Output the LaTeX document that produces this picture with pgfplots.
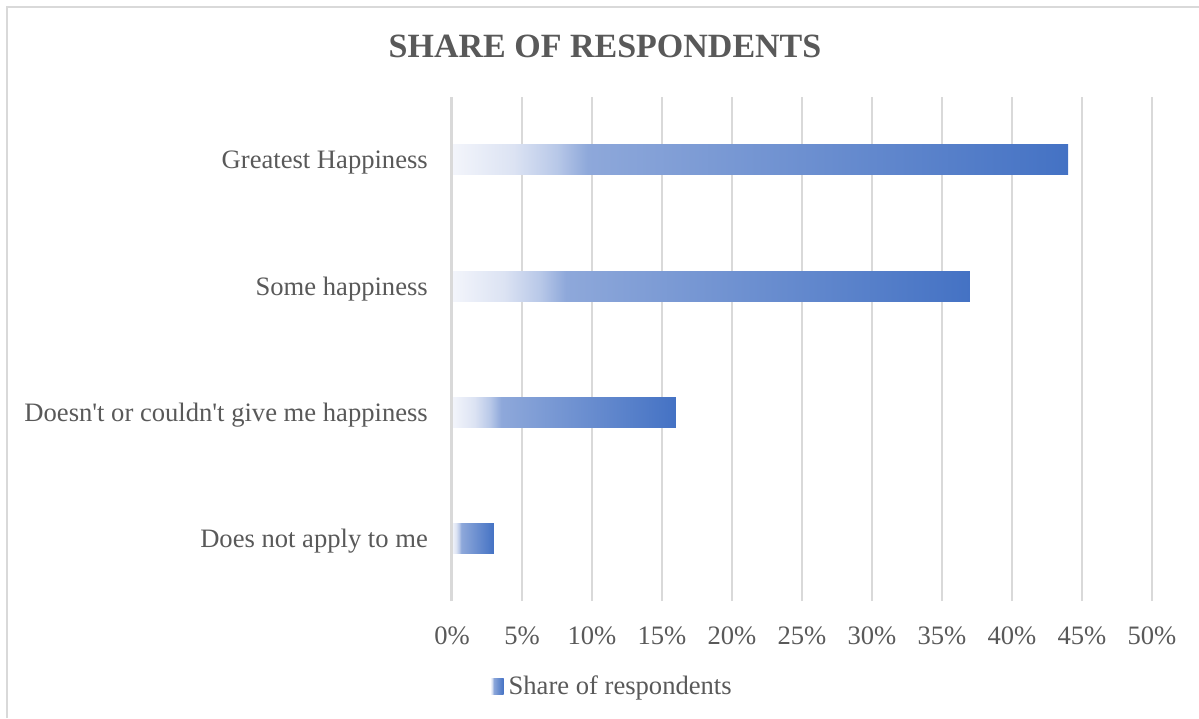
\documentclass[border=0pt]{standalone}
\usepackage{fontspec}
\setmainfont{Liberation Serif}
\usepackage{pgfplots}
\pgfplotsset{compat=1.18}
\definecolor{textgray}{HTML}{595959}
\definecolor{gridgray}{HTML}{D9D9D9}
\definecolor{bs0}{HTML}{F3F5FB}
\definecolor{bs1}{HTML}{DCE3F3}
\definecolor{bs2}{HTML}{B8C8E8}
\definecolor{bs3}{HTML}{8EA8DA}
\definecolor{bs4}{HTML}{4472C4}
\pgfdeclarehorizontalshading{barshade}{100bp}{color(0bp)=(bs0); color(25bp)=(bs0); color(30bp)=(bs1); color(33.5bp)=(bs2); color(36bp)=(bs3); color(75bp)=(bs4); color(100bp)=(bs4)}
\begin{document}
\begin{tikzpicture}
\path[use as bounding box] (-452pt,-117pt) rectangle (747pt,601pt);
\draw[gridgray, line width=1.5pt] (-445pt,-117pt) -- (-445pt,594pt) -- (747pt,594pt);
\begin{axis}[
 at={(0pt,0pt)}, anchor=south west,
 scale only axis, width=700pt, height=504pt,
 xmin=0, xmax=50, ymin=-0.5, ymax=3.5,
 xbar, bar width=30pt,
 axis line style={draw=none},
 major tick length=0pt,
 xtick={0,5,...,50},
 xticklabel={\pgfmathprintnumber{\tick}\%},
 ytick={0,1,2,3},
 yticklabels={Does not apply to me, Doesn\textquotesingle t or couldn\textquotesingle t give me happiness, Some happiness, Greatest Happiness},
 xmajorgrids, grid style={gridgray, line width=1.5pt},
 /pgf/number format/assume math mode=true,
 tick label style={font=\fontsize{26.6}{30}\selectfont, text=textgray},
 xticklabel style={anchor=base, yshift=-43pt},
 yticklabel style={anchor=base east, inner sep=0pt, xshift=-24pt, yshift=-9pt},
 title={SHARE OF RESPONDENTS},
 title style={at={(0.2186,1.089)}, anchor=center, font=\fontsize{34}{40}\selectfont\bfseries, text=textgray},
 legend style={at={(0.231,-0.169)}, anchor=center, draw=none, fill=none, font=\fontsize{26.6}{30}\selectfont, text=textgray, nodes={inner xsep=5pt}},
 legend image code/.code={\fill[shade, shading=barshade] (0pt,-8pt) rectangle (13pt,8pt);},
 clip=false,
 every axis plot/.append style={draw=none, shade, shading=barshade, bar shift=0pt},
]
\addplot coordinates {(44,3)};
\addlegendentry{Share of respondents}
\addplot[forget plot] coordinates {(37,2)};
\addplot[forget plot] coordinates {(16,1)};
\addplot[forget plot] coordinates {(3,0)};
\draw[gridgray, line width=3pt] (axis cs:0,-0.5) -- (axis cs:0,3.5);
\end{axis}
\end{tikzpicture}
\end{document}
